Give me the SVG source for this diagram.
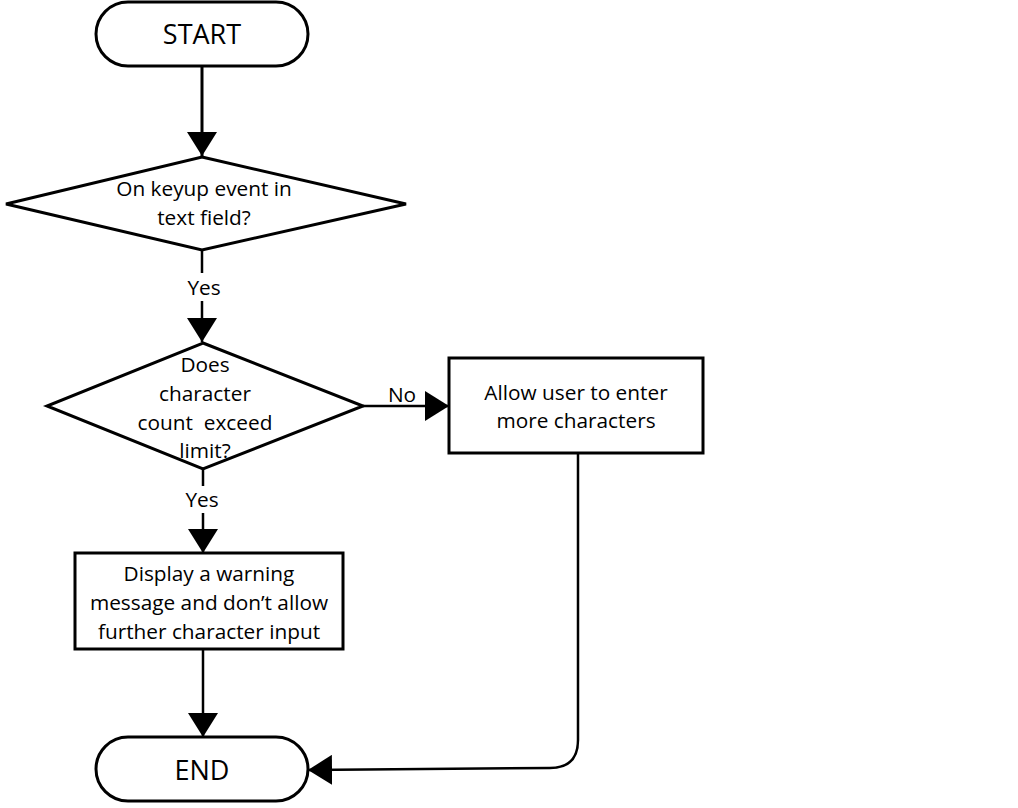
<svg xmlns="http://www.w3.org/2000/svg" width="1018" height="808" viewBox="0 0 1018 808">
<defs>
<style>
.shape{fill:#fff;stroke:#000;stroke-width:3}
.conn{fill:none;stroke:#000;stroke-width:2.5}
.t{font-family:"Open Sans","Liberation Sans",Arial,sans-serif;font-size:20.8px;fill:#000;text-anchor:middle;white-space:pre}
.big{font-size:27px}
.lbl{fill:#fff}
</style>
<marker id="ah" viewBox="0 0 24 30" refX="24" refY="15" markerWidth="24" markerHeight="30" markerUnits="userSpaceOnUse" orient="auto">
<path d="M0,0 L24,15 L0,30 Z" fill="#000"/>
</marker>
</defs>
<rect width="1018" height="808" fill="#fff"/>
<g id="connectors">
<path class="conn" d="M202,66 L202,156" marker-end="url(#ah)" style="stroke-width:3"/>
<path class="conn" d="M202,250 L202,342" marker-end="url(#ah)"/>
<path class="conn" d="M363,406 L449,406" marker-end="url(#ah)"/>
<path class="conn" d="M203,469 L203,553" marker-end="url(#ah)"/>
<path class="conn" d="M203,649 L203,737" marker-end="url(#ah)"/>
<path class="conn" d="M578,453 L578,740 Q578,768 550,768 L308,770" marker-end="url(#ah)"/>
<rect class="lbl" x="184" y="273" width="38" height="28"/>
<text class="t" x="204" y="295">Yes</text>
<rect class="lbl" x="182" y="486" width="40" height="27"/>
<text class="t" x="202" y="507">Yes</text>
<text class="t" x="402" y="402">No</text>
</g>
<g id="start">
<rect class="shape" x="96" y="2" width="212" height="64" rx="32"/>
<text class="t big" x="202" y="44">START</text>
</g>
<g id="keyup">
<polygon class="shape" points="202,157 406,204 202,250 6,204"/>
<text class="t" x="204" y="196">On keyup event in</text>
<text class="t" x="204" y="225">text field?</text>
</g>
<g id="exceed">
<polygon class="shape" points="203,343 363,406 203,469 47,406"/>
<text class="t" x="205" y="372">Does</text>
<text class="t" x="205" y="401">character</text>
<text class="t" x="205" y="430">count  exceed</text>
<text class="t" x="205" y="458">limit?</text>
</g>
<g id="allow">
<rect class="shape" x="449" y="358" width="254" height="95"/>
<text class="t" x="576" y="400">Allow user to enter</text>
<text class="t" x="576" y="428">more characters</text>
</g>
<g id="warn">
<rect class="shape" x="75" y="553" width="268" height="96"/>
<text class="t" x="209" y="581">Display a warning</text>
<text class="t" x="209" y="610">message and don’t allow</text>
<text class="t" x="209" y="639">further character input</text>
</g>
<g id="end">
<rect class="shape" x="96" y="737" width="212" height="64" rx="32"/>
<text class="t big" x="202" y="780">END</text>
</g>
</svg>
